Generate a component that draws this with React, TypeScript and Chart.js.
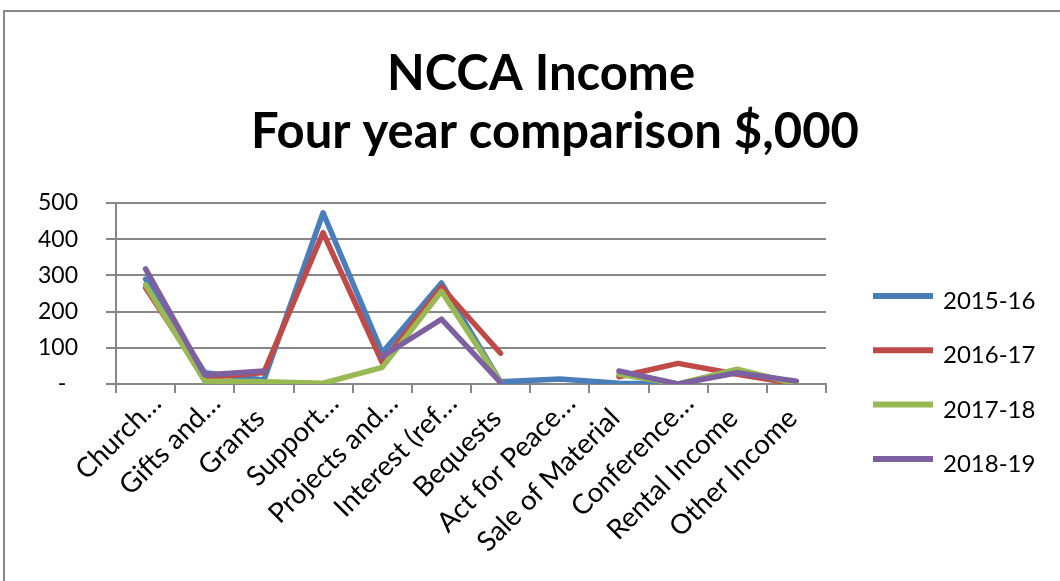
import React, { useEffect, useRef } from "react";
import { Chart, registerables } from "chart.js";

Chart.register(...registerables);

// Income categories (labels as shown on the axis, truncated in the source sheet)
const categories = [
  "Church…",
  "Gifts and…",
  "Grants",
  "Support…",
  "Projects and…",
  "Interest (ref…",
  "Bequests",
  "Act for Peace…",
  "Sale of Material",
  "Conference…",
  "Rental Income",
  "Other Income",
];

const seriesLabels = ["2015-16", "2016-17", "2017-18", "2018-19"];

// Income in $,000 per year; null means no entry for that year
const income201516 = [290, 31, 11, 473, 86, 279, 6, 14, 2, 0, null, null];
const income201617 = [266, 17, 32, 418, 59, 268, 85, null, 20, 57, 27, 0];
const income201718 = [274, 8, 6, 2, 46, 256, 6, null, 27, 0, 41, 0];
const income201819 = [318, 25, 36, null, 76, 179, 4, null, 36, 0, 31, 8];

const seriesValues = [income201516, income201617, income201718, income201819];
const seriesColors = ["#4A7EBB", "#BE4B48", "#98B954", "#7D60A0"];

const yMin = 0;
const yMax = 500;
const yStep = 100;

const titleLines = ["NCCA Income", "Four year comparison $,000"];

const GRID = "#878787";
const FONT = "Lato, 'Open Sans', 'DejaVu Sans', sans-serif";

const W = 1060;
const H = 581;

// White background plus the grey outer frame of the chart object
const framePlugin = {
  id: "frame",
  beforeDraw(chart: any) {
    const ctx = chart.ctx;
    ctx.save();
    ctx.fillStyle = "#ffffff";
    ctx.fillRect(0, 0, chart.width, chart.height);
    ctx.strokeStyle = GRID;
    ctx.lineWidth = 2;
    ctx.beginPath();
    ctx.moveTo(4, chart.height + 10);
    ctx.lineTo(4, 11);
    ctx.lineTo(chart.width + 10, 11);
    ctx.stroke();
    ctx.restore();
  },
};

// Two-line bold title
const titlePlugin = {
  id: "twoLineTitle",
  afterDraw(chart: any) {
    const ctx = chart.ctx;
    ctx.save();
    ctx.fillStyle = "#000000";
    ctx.font = `bold 49px ${FONT}`;
    ctx.textAlign = "center";
    ctx.textBaseline = "alphabetic";
    ctx.fillText(titleLines[0], 541, 90);
    ctx.fillText(titleLines[1], 555, 148);
    ctx.restore();
  },
};

// Legend on the right: thick line swatch followed by the year label
const sideLegendPlugin = {
  id: "sideLegend",
  afterDraw(chart: any) {
    const ctx = chart.ctx;
    const x0 = 873;
    const swatch = 60;
    const top = 296;
    const gap = 54.3;
    ctx.save();
    chart.data.datasets.forEach((ds: any, i: number) => {
      const y = top + i * gap;
      ctx.strokeStyle = ds.borderColor;
      ctx.lineWidth = 6;
      ctx.lineCap = "butt";
      ctx.beginPath();
      ctx.moveTo(x0, y);
      ctx.lineTo(x0 + swatch, y);
      ctx.stroke();
      ctx.fillStyle = "#000000";
      ctx.font = `24px ${FONT}`;
      ctx.textAlign = "left";
      ctx.textBaseline = "alphabetic";
      ctx.fillText(ds.label, x0 + swatch + 10, y + 13);
    });
    ctx.restore();
  },
};

export default function App() {
  const canvasRef = useRef<HTMLCanvasElement | null>(null);

  useEffect(() => {
    const canvas = canvasRef.current;
    if (!canvas) return;

    const datasets = seriesLabels.map((label, i) => ({
      label,
      data: seriesValues[i],
      borderColor: seriesColors[i],
      backgroundColor: seriesColors[i],
      borderWidth: 5.5,
      pointRadius: 0,
      pointHoverRadius: 0,
      tension: 0,
      spanGaps: false,
      borderJoinStyle: "round" as const,
      borderCapStyle: "round" as const,
      // later years are painted on top
      order: seriesLabels.length - 1 - i,
    }));

    const chart = new Chart(canvas, {
      type: "line",
      data: { labels: categories, datasets },
      options: {
        responsive: false,
        animation: false,
        devicePixelRatio: 1,
        layout: { padding: { top: 203, right: 234, bottom: 0, left: 0 } },
        plugins: {
          legend: { display: false },
          title: { display: false },
          tooltip: { enabled: false },
        },
        scales: {
          x: {
            type: "category",
            offset: true,
            afterFit(scale: any) {
              scale.height = H - 384;
            },
            grid: {
              offset: true,
              drawOnChartArea: false,
              color: GRID,
              lineWidth: 2,
              tickLength: 9,
            },
            border: { display: true, color: GRID, width: 2 },
            ticks: {
              autoSkip: false,
              maxRotation: 45,
              minRotation: 45,
              padding: -3,
              labelOffset: 11,
              color: "#000000",
              font: { family: FONT, size: 27.5, lineHeight: 0.9 },
              // complete names sit a little further along the slant than truncated ones
              callback: (_v: any, i: number) =>
                categories[i].endsWith("…") ? categories[i] : categories[i] + "   ",
            },
          },
          y: {
            min: yMin,
            max: yMax,
            afterFit(scale: any) {
              scale.width = 116;
            },
            grid: { color: GRID, lineWidth: 2, tickLength: 10 },
            border: { display: true, color: GRID, width: 2 },
            ticks: {
              stepSize: yStep,
              padding: 28,
              color: "#000000",
              font: { family: FONT, size: 23 },
              callback: (v: any) => (Number(v) === 0 ? "-  " : String(v)),
            },
          },
        },
      },
      plugins: [framePlugin, titlePlugin, sideLegendPlugin],
    });

    return () => chart.destroy();
  }, []);

  return (
    <div style={{ position: "fixed", left: 0, top: 0, width: W, height: H, background: "#fff" }}>
      <canvas ref={canvasRef} width={W} height={H} style={{ display: "block", width: W, height: H }} />
    </div>
  );
}
